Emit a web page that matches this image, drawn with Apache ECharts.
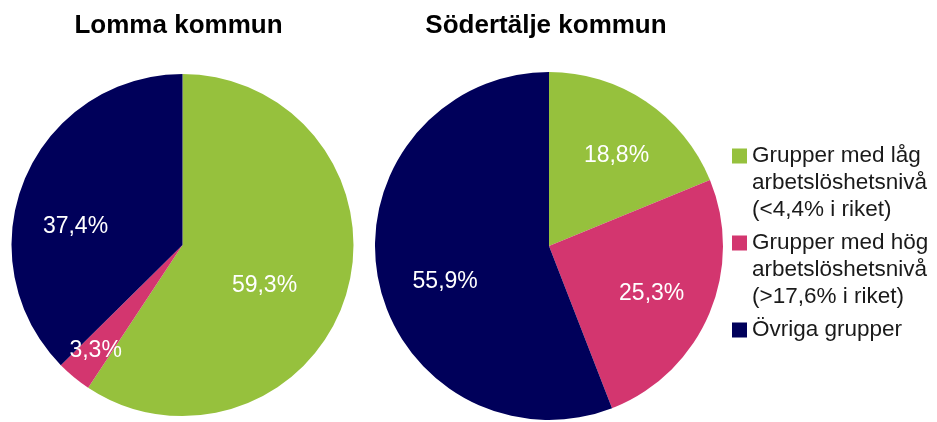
<!DOCTYPE html>
<html>
<head>
<meta charset="utf-8">
<script src="https://cdn.jsdelivr.net/npm/echarts@6/dist/echarts.min.js"></script>
<style>
html,body{margin:0;padding:0;background:#fff;}
#chart{width:937px;height:422px;}
</style>
</head>
<body>
<div id="chart"></div>
<script>
// ---- data ----
const categories = [
  'Grupper med låg\narbetslöshetsnivå\n(<4,4% i riket)',
  'Grupper med hög\narbetslöshetsnivå\n(>17,6% i riket)',
  'Övriga grupper'
];
const pieTitles = ['Lomma kommun', 'Södertälje kommun'];
const lommaValues = [59.3, 3.3, 37.4];
const sodertaljeValues = [18.8, 25.3, 55.9];

// ---- layout / style ----
const FONT = '"Liberation Sans", Arial, sans-serif';
const colors = ['#96c13d', '#d3366f', '#00005a'];
const pieLayouts = [
  { center: [182.5, 245], radius: 171, titleX: 178.5 },
  { center: [549, 246], radius: 174, titleX: 546 }
];
// label placement (Excel "best fit"): angle shift in degrees, fraction of radius
const labelAngleShift = [[9.6, 0, -12.9], [2.8, 1.6, -8.1]];
const labelRadiusFrac = [[0.535, 0.80, 0.635], [0.65, 0.65, 0.63]];

const allValues = [lommaValues, sodertaljeValues];

function fmt(v) { return v.toFixed(1).replace('.', ',') + '%'; }

function labelPos(si, di) {
  const vals = allValues[si];
  const total = vals.reduce((a, b) => a + b, 0);
  let before = 0;
  for (let i = 0; i < di; i++) before += vals[i];
  const theta = ((before + vals[di] / 2) / total * 360 + labelAngleShift[si][di]) * Math.PI / 180;
  const L = pieLayouts[si];
  const d = labelRadiusFrac[si][di] * L.radius;
  return { x: L.center[0] + d * Math.sin(theta), y: L.center[1] - d * Math.cos(theta) };
}

const chart = echarts.init(document.getElementById('chart'), null, { renderer: 'canvas' });

const iconMulti = 'path://M0,0 M0,6 L15,6 L15,21 L0,21 Z M0,81';

const option = {
  backgroundColor: '#ffffff',
  animation: false,
  color: colors,
  title: pieTitles.map((t, i) => ({
    text: t,
    left: pieLayouts[i].titleX,
    top: 13,
    textAlign: 'center',
    padding: 0,
    textStyle: { fontSize: 26, fontWeight: 'bold', color: '#000', fontFamily: FONT }
  })),
  legend: {
    orient: 'vertical',
    left: 732,
    top: 142.5,
    padding: 0,
    itemWidth: 15,
    itemHeight: 81,
    itemGap: 6,
    symbolKeepAspect: false,
    selectedMode: false,
    textStyle: { fontSize: 22.5, lineHeight: 27, color: '#1a1a1a', fontFamily: FONT },
    formatter: function (name) {
      const n = name.split('\n').length;
      let s = name;
      for (let k = n; k < 3; k++) s += '\n ';
      return s;
    },
    data: categories.map(c => ({ name: c, icon: iconMulti }))
  },
  series: allValues.map((vals, si) => ({
    type: 'pie',
    center: pieLayouts[si].center,
    radius: pieLayouts[si].radius,
    startAngle: 90,
    clockwise: true,
    avoidLabelOverlap: false,
    itemStyle: { borderWidth: 0 },
    emphasis: { disabled: true },
    label: {
      show: true,
      position: 'inside',
      color: '#ffffff',
      fontSize: 23,
      fontFamily: FONT,
      formatter: p => fmt(p.value)
    },
    labelLine: { show: false },
    labelLayout: function (p) {
      const pos = labelPos(si, p.dataIndex);
      return { x: pos.x, y: pos.y, align: 'center', verticalAlign: 'middle' };
    },
    data: vals.map((v, i) => ({ name: categories[i], value: v }))
  }))
};

chart.setOption(option);
</script>
</body>
</html>
